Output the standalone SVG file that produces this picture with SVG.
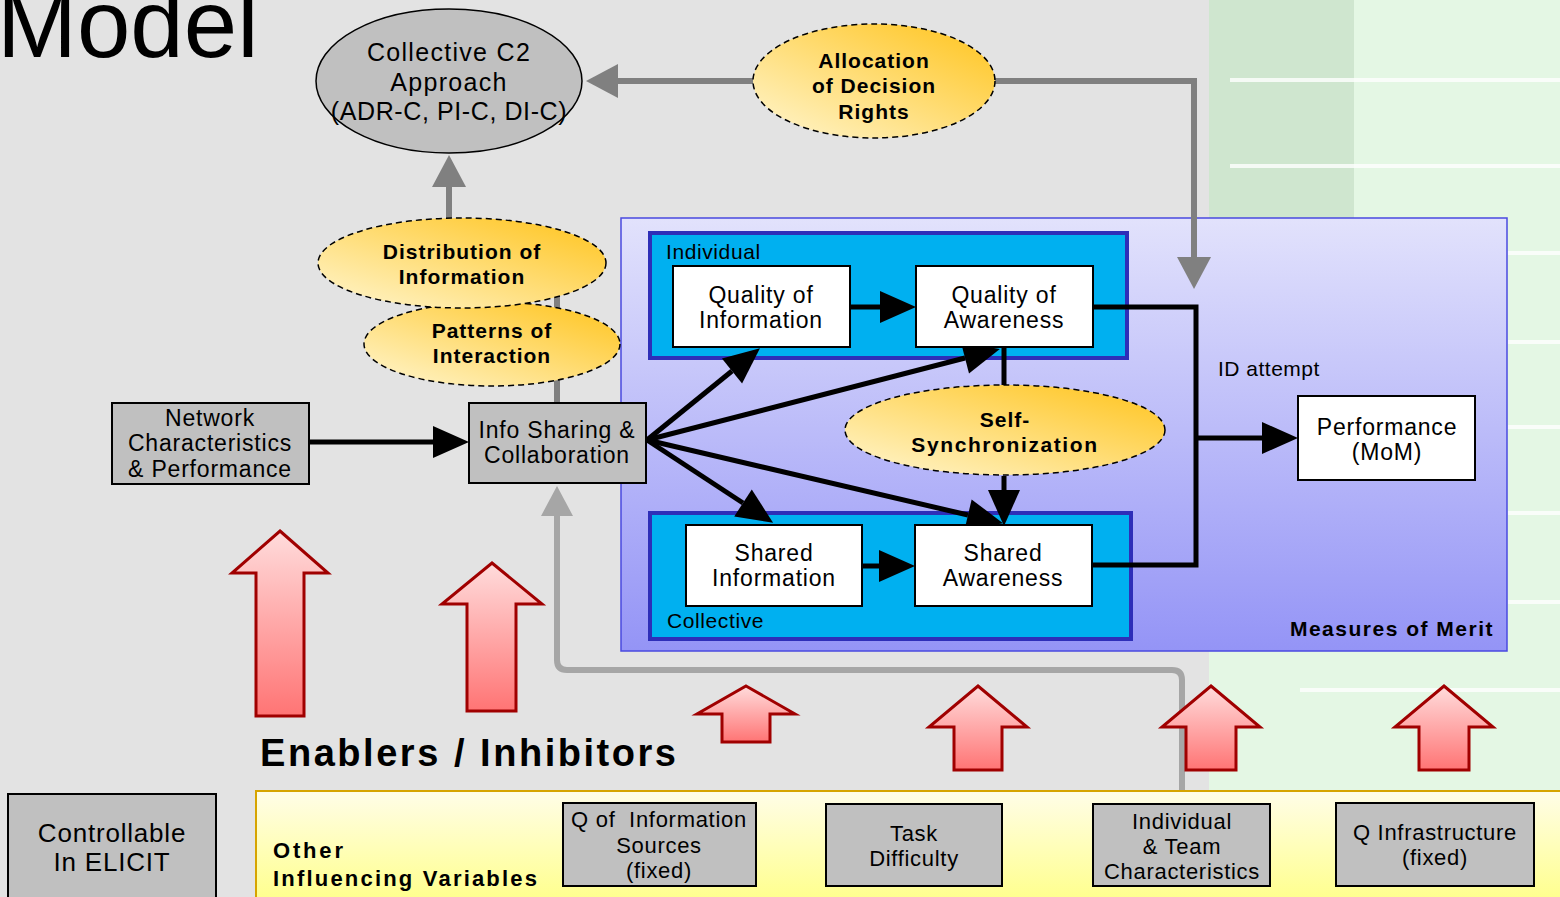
<svg xmlns="http://www.w3.org/2000/svg" width="1560" height="897" viewBox="0 0 1560 897">
<defs>
<style>
text{font-family:"Liberation Sans",Arial,sans-serif;fill:#000}
.r{font-size:23px;letter-spacing:0.8px;text-anchor:middle}
.b{font-size:21px;font-weight:bold;letter-spacing:1px;text-anchor:middle}
.sm{font-size:22px;letter-spacing:0.7px;text-anchor:middle}
.gbox{fill:#c0c0c0;stroke:#000;stroke-width:2}
.wbox{fill:#fff;stroke:#000;stroke-width:2}
.yell{fill:url(#yg);stroke:#000;stroke-width:1.5;stroke-dasharray:6 4}
.blk{fill:none;stroke:#000;stroke-width:5}
.gry{fill:none;stroke:#808080;stroke-width:6}
.gry2{fill:none;stroke:#a6a6a6;stroke-width:6}
.red{fill:url(#rg);stroke:#a00000;stroke-width:3}
.cont{fill:#00b0f0;stroke:#2e2eb8;stroke-width:4}
</style>
<linearGradient id="yg" x1="0" y1="1" x2="1" y2="0">
<stop offset="0" stop-color="#fff6d0"/><stop offset="1" stop-color="#ffc31a"/>
</linearGradient>
<linearGradient id="rg" x1="0" y1="0" x2="0" y2="1">
<stop offset="0" stop-color="#ffdcdc"/><stop offset="1" stop-color="#ff7474"/>
</linearGradient>
<linearGradient id="mg" x1="0" y1="0" x2="0" y2="1">
<stop offset="0" stop-color="#e2e2fc"/><stop offset="1" stop-color="#9494f6"/>
</linearGradient>
<linearGradient id="bg" x1="0" y1="0" x2="0" y2="1">
<stop offset="0" stop-color="#fffde8"/><stop offset="1" stop-color="#ffff8c"/>
</linearGradient>
<marker id="ah" markerUnits="userSpaceOnUse" markerWidth="36" markerHeight="32" refX="0" refY="16" orient="auto" overflow="visible">
<path d="M0,0 L36,16 L0,32 z" fill="#000"/>
</marker>
<marker id="ahg" markerUnits="userSpaceOnUse" markerWidth="34" markerHeight="34" refX="0" refY="17" orient="auto" overflow="visible">
<path d="M0,0 L32,17 L0,34 z" fill="#808080"/>
</marker>
<marker id="ahl" markerUnits="userSpaceOnUse" markerWidth="34" markerHeight="34" refX="0" refY="16" orient="auto" overflow="visible">
<path d="M0,0 L30,16 L0,32 z" fill="#a6a6a6"/>
</marker>
</defs>

<g id="background">
<rect x="0" y="0" width="1560" height="897" fill="#e3e3e3"/>
<rect x="1209" y="0" width="351" height="897" fill="#e4f7e4"/>
<rect x="1209" y="0" width="145" height="220" fill="#cfe6cf"/>
<g stroke="#ffffff" stroke-width="4" opacity="0.8">
<line x1="1230" y1="80" x2="1560" y2="80"/>
<line x1="1230" y1="166" x2="1560" y2="166"/>
<line x1="1508" y1="253" x2="1560" y2="253"/>
<line x1="1508" y1="342" x2="1560" y2="342"/>
<line x1="1508" y1="427" x2="1560" y2="427"/>
<line x1="1508" y1="513" x2="1560" y2="513"/>
<line x1="1508" y1="602" x2="1560" y2="602"/>
<line x1="1300" y1="690" x2="1560" y2="690"/>
</g>
<text x="-3" y="57" style="font-size:96px">Model</text>
</g>

<g id="mom">
<rect x="621" y="218" width="886" height="433" fill="url(#mg)" stroke="#4a4ae0" stroke-width="1.5"/>
<text x="1494" y="636" style="font-size:21px;font-weight:bold;letter-spacing:1.5px;text-anchor:end">Measures of Merit</text>
</g>
<g id="individual">
<rect class="cont" x="650" y="233" width="477" height="125"/>
<text x="666" y="259" style="font-size:21px;letter-spacing:0.6px">Individual</text>
</g>
<g id="collective">
<rect class="cont" x="650" y="513" width="481" height="126"/>
<text x="667" y="628" style="font-size:21px;letter-spacing:0.6px">Collective</text>
</g>

<g id="connectors">
<line class="gry" x1="557" y1="402" x2="557" y2="290" stroke="#909090"/>
<line class="gry" x1="753" y1="81" x2="618" y2="81" marker-end="url(#ahg)"/>
<polyline class="gry" points="995,81 1194,81 1194,257" marker-end="url(#ahg)"/>
<line class="gry" x1="449" y1="218" x2="449" y2="187" marker-end="url(#ahg)"/>
<path class="gry2" d="M1182,804 V680 Q1182,670 1172,670 H567 Q557,670 557,660 V516" marker-end="url(#ahl)"/>
<line class="blk" x1="310" y1="442" x2="433" y2="442" marker-end="url(#ah)"/>
<line class="blk" x1="850" y1="307" x2="880" y2="307" marker-end="url(#ah)"/>
<line class="blk" x1="862" y1="566" x2="879" y2="566" marker-end="url(#ah)"/>
<line class="blk" x1="647" y1="440" x2="732" y2="371" marker-end="url(#ah)"/>
<line class="blk" x1="647" y1="440" x2="965" y2="358" marker-end="url(#ah)"/>
<line class="blk" x1="647" y1="440" x2="743" y2="503" marker-end="url(#ah)"/>
<line class="blk" x1="647" y1="440" x2="968" y2="515" marker-end="url(#ah)"/>
<line class="blk" x1="1004" y1="347" x2="1004" y2="387"/>
<line class="blk" x1="1004" y1="476" x2="1004" y2="490" marker-end="url(#ah)"/>
<polyline class="blk" points="1093,307 1196,307 1196,565 1092,565" stroke-width="6"/>
<line class="blk" x1="1196" y1="438" x2="1262" y2="438" marker-end="url(#ah)"/>
</g>

<g id="c2">
<ellipse cx="449" cy="81" rx="133" ry="72" fill="#c0c0c0" stroke="#000" stroke-width="1.5"/>
<text class="r" x="449" y="61" style="font-size:25px;letter-spacing:1.3px">Collective C2</text>
<text class="r" x="449" y="91" style="font-size:25px;letter-spacing:1.3px">Approach</text>
<text class="r" x="449" y="120" style="font-size:25px;letter-spacing:0.6px">(ADR-C, PI-C, DI-C)</text>
</g>
<g id="allocation">
<ellipse class="yell" cx="874" cy="81" rx="121" ry="57"/>
<text class="b" x="874" y="68">Allocation</text>
<text class="b" x="874" y="93">of Decision</text>
<text class="b" x="874" y="119">Rights</text>
</g>
<g id="patterns">
<ellipse class="yell" cx="492" cy="344" rx="128" ry="42"/>
<text class="b" x="492" y="338">Patterns of</text>
<text class="b" x="492" y="363">Interaction</text>
</g>
<g id="distribution">
<ellipse class="yell" cx="462" cy="263" rx="144" ry="45"/>
<text class="b" x="462" y="259">Distribution of</text>
<text class="b" x="462" y="284">Information</text>
</g>
<g id="network">
<rect class="gbox" x="112" y="403" width="197" height="81"/>
<text class="r" x="210" y="426">Network</text>
<text class="r" x="210" y="451">Characteristics</text>
<text class="r" x="210" y="477">&amp; Performance</text>
</g>
<g id="infosharing">
<rect class="gbox" x="469" y="403" width="177" height="80"/>
<text class="r" x="557" y="438">Info Sharing &amp;</text>
<text class="r" x="557" y="463">Collaboration</text>
</g>
<g id="qoi">
<rect class="wbox" x="673" y="266" width="177" height="81"/>
<text class="r" x="761" y="303">Quality of</text>
<text class="r" x="761" y="328">Information</text>
</g>
<g id="qoa">
<rect class="wbox" x="916" y="266" width="177" height="81"/>
<text class="r" x="1004" y="303">Quality of</text>
<text class="r" x="1004" y="328">Awareness</text>
</g>
<g id="selfsync">
<ellipse class="yell" cx="1005" cy="430" rx="160" ry="45"/>
<text class="b" x="1005" y="427">Self-</text>
<text class="b" x="1005" y="452" style="letter-spacing:1.6px">Synchronization</text>
</g>
<g id="sharedinfo">
<rect class="wbox" x="686" y="525" width="176" height="81"/>
<text class="r" x="774" y="561">Shared</text>
<text class="r" x="774" y="586">Information</text>
</g>
<g id="sharedaw">
<rect class="wbox" x="915" y="525" width="177" height="81"/>
<text class="r" x="1003" y="561">Shared</text>
<text class="r" x="1003" y="586">Awareness</text>
</g>
<g id="performance">
<rect class="wbox" x="1298" y="396" width="177" height="84"/>
<text class="r" x="1387" y="435">Performance</text>
<text class="r" x="1387" y="460">(MoM)</text>
<text x="1218" y="376" style="font-size:21px;letter-spacing:0.5px">ID attempt</text>
</g>

<g id="red-arrows">
<path class="red" d="M280,531 L328,573 H304 V716 H256 V573 H232 Z"/>
<path class="red" d="M492,563 L542,604 H516 V711 H467 V604 H442 Z"/>
<path class="red" d="M746,686 L795,714 H770 V742 H722 V714 H697 Z"/>
<path class="red" d="M978,686 L1027,727 H1002 V770 H954 V727 H929 Z"/>
<path class="red" d="M1211,686 L1260,727 H1236 V770 H1186 V727 H1162 Z"/>
<path class="red" d="M1444,686 L1493,727 H1469 V770 H1419 V727 H1395 Z"/>
</g>
<text x="260" y="766" style="font-size:38px;font-weight:bold" textLength="416">Enablers / Inhibitors</text>

<g id="controllable">
<rect class="gbox" x="8" y="794" width="208" height="110"/>
<text class="r" x="112" y="842" style="font-size:26px">Controllable</text>
<text class="r" x="112" y="871" style="font-size:26px">In ELICIT</text>
</g>
<g id="other">
<rect x="256" y="791" width="1310" height="110" fill="url(#bg)" stroke="#d6a400" stroke-width="2"/>
<text x="273" y="858" style="font-size:22px;font-weight:bold" textLength="70">Other</text>
<text x="273" y="886" style="font-size:22px;font-weight:bold" textLength="264">Influencing Variables</text>
</g>
<g id="qinfo">
<rect class="gbox" x="563" y="803" width="193" height="83"/>
<text class="sm" x="659" y="827" xml:space="preserve">Q of  Information</text>
<text class="sm" x="659" y="853">Sources</text>
<text class="sm" x="659" y="878">(fixed)</text>
</g>
<g id="task">
<rect class="gbox" x="826" y="804" width="176" height="82"/>
<text class="sm" x="914" y="841">Task</text>
<text class="sm" x="914" y="866">Difficulty</text>
</g>
<g id="indteam">
<rect class="gbox" x="1093" y="804" width="177" height="82"/>
<text class="sm" x="1182" y="829">Individual</text>
<text class="sm" x="1182" y="854">&amp; Team</text>
<text class="sm" x="1182" y="879">Characteristics</text>
</g>
<g id="qinfra">
<rect class="gbox" x="1336" y="803" width="198" height="83"/>
<text class="sm" x="1435" y="840">Q Infrastructure</text>
<text class="sm" x="1435" y="865">(fixed)</text>
</g>
</svg>
